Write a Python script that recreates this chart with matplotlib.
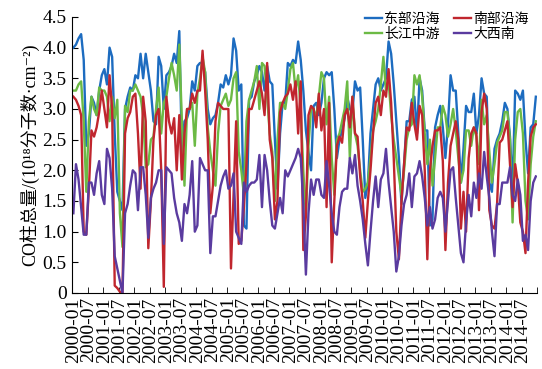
import matplotlib
matplotlib.use('Agg')
import matplotlib.pyplot as plt
import numpy as np

# monthly CO column totals, 2000-01 .. 2014-12
east = [4.0, 4.05, 4.15, 4.22, 3.8, 2.4, 2.6, 3.2, 3.1, 2.9, 3.3, 3.55,
        3.65, 3.4, 4.0, 3.85, 2.6, 1.65, 1.5, 1.35, 3.0, 3.2, 3.35, 3.3,
        3.55, 3.5, 3.9, 3.5, 3.9, 3.6, 3.3, 2.8, 2.75, 3.85, 3.7, 3.0,
        3.55, 3.6, 3.7, 3.9, 3.75, 4.27, 2.3, 2.8, 2.85, 3.0, 3.45, 3.3,
        3.7, 3.75, 3.75, 3.6, 3.0, 2.75, 2.85, 2.9, 3.1, 3.4, 3.35, 3.55,
        3.4, 3.55, 4.15, 3.95, 3.3, 3.4, 1.1, 1.05, 3.15, 3.2, 3.45, 3.55,
        3.7, 3.6, 3.3, 3.7, 3.45, 3.4, 2.5, 1.7, 2.6, 3.1, 3.1, 3.75,
        3.7, 3.8, 3.75, 4.1, 3.8, 3.3, 2.65, 2.3, 2.0, 3.05, 3.1, 2.9,
        3.1, 3.5, 3.6, 3.55, 3.6, 3.0, 2.2, 2.5, 2.65, 2.85, 3.2, 3.0,
        2.95, 3.45, 3.3, 3.35, 2.5, 1.55, 1.8, 2.6, 3.0, 3.4, 3.5, 3.3,
        3.4, 3.5, 4.1, 3.9, 3.4, 2.8, 2.2, 1.45, 2.1, 2.8, 2.8, 3.15,
        3.2, 2.6, 3.5, 3.3, 2.65, 2.65, 1.1, 1.2, 2.7, 2.9, 3.05, 2.7,
        2.2, 2.75, 3.55, 3.3, 3.3, 2.6, 1.8, 2.35, 3.05, 2.95, 2.95, 3.25,
        2.6, 2.9, 3.5, 3.25, 3.2, 1.8, 1.65, 2.35, 2.5, 2.6, 2.8, 3.1,
        3.0, 2.55, 1.7, 3.3, 3.25, 3.15, 3.3, 2.5, 1.95, 2.7, 2.75, 3.2]

south = [3.2, 3.15, 3.05, 2.9, 1.0, 0.95, 1.7, 2.65, 2.55, 2.7, 2.95, 3.3,
         3.0, 2.7, 3.55, 3.0, 0.12, 0.08, 0.02, 0.0, 2.6, 2.85, 2.95, 3.2,
         3.25, 2.6, 1.7, 3.2, 2.8, 0.73, 1.5, 2.5, 2.9, 3.0, 2.0, 0.1,
         3.2, 2.8, 2.6, 2.85, 2.0, 2.9, 1.85, 2.6, 3.0, 3.0, 3.25, 3.1,
         3.3, 3.3, 3.95, 3.3, 2.5, 1.3, 1.75, 2.8, 3.1, 3.05, 3.0, 3.0,
         3.0, 0.4, 1.6, 2.8, 0.8, 0.85, 1.4, 2.1, 3.0, 3.0, 3.15, 3.3,
         3.45, 3.25, 2.9, 3.75, 2.5, 2.2, 1.2, 1.5, 2.95, 3.1, 3.2, 3.25,
         3.4, 3.15, 3.45, 2.6, 3.45, 0.7, 1.25, 2.9, 3.05, 3.0, 2.7, 3.25,
         2.65, 3.0, 1.4, 3.1, 0.5, 1.5, 2.4, 2.55, 2.45, 2.9, 3.0, 2.7,
         3.2, 2.6, 2.55, 1.9, 1.5, 0.9, 1.5, 2.0, 2.6, 3.1, 3.2, 2.9,
         3.3, 3.2, 3.65, 3.1, 2.2, 1.0, 0.55, 1.5, 2.1, 2.7, 2.65, 3.1,
         2.75, 2.5, 3.05, 2.9, 2.0, 0.55, 2.0, 2.4, 2.65, 2.65, 2.7, 2.15,
         0.7, 1.8, 2.4, 2.6, 2.8, 2.5, 1.05, 1.65, 1.0, 2.2, 2.6, 2.7,
         2.6, 1.35, 2.95, 3.25, 3.0, 1.35, 1.1, 1.05, 1.45, 2.45, 2.5, 2.65,
         2.8, 2.1, 1.4, 2.1, 1.8, 1.15, 1.0, 0.65, 1.8, 2.55, 2.7, 2.75]

yangtze = [3.3, 3.3, 3.4, 3.45, 2.8, 1.65, 2.8, 3.2, 3.0, 2.9, 3.35, 3.3,
           3.3, 3.2, 2.8, 3.2, 2.85, 3.15, 1.3, 0.75, 3.05, 2.95, 3.3, 3.3,
           3.4, 3.3, 3.2, 2.9, 2.05, 2.1, 2.5, 2.55, 3.0, 3.35, 2.6, 3.1,
           3.2, 3.5, 3.75, 3.55, 3.3, 4.05, 2.8, 1.75, 3.0, 3.0, 3.1, 2.4,
           3.25, 3.5, 3.85, 3.6, 2.7, 2.3, 2.0, 1.75, 2.6, 3.05, 3.15, 3.25,
           3.05, 3.15, 3.5, 3.6, 2.3, 2.0, 1.6, 2.8, 3.15, 3.3, 3.45, 3.7,
           3.0, 3.75, 3.7, 3.2, 2.6, 2.3, 1.5, 2.5, 3.1, 3.1, 3.0, 3.3,
           3.65, 3.75, 3.3, 3.55, 3.0, 2.0, 1.25, 2.4, 3.0, 3.0, 2.85, 3.2,
           3.6, 3.5, 2.75, 3.2, 2.2, 1.6, 2.5, 2.6, 2.8, 3.0, 3.45, 2.2,
           3.2, 2.6, 2.4, 2.0, 1.65, 1.7, 1.8, 2.2, 2.65, 2.8, 3.0, 3.4,
           3.85, 3.3, 3.45, 2.9, 2.5, 2.2, 1.9, 1.6, 2.0, 2.5, 2.7, 2.75,
           3.55, 3.4, 3.55, 3.2, 2.6, 2.1, 2.5, 1.75, 2.2, 2.7, 2.7, 3.05,
           2.9, 2.55, 2.75, 3.0, 2.65, 2.2, 1.8, 2.0, 2.65, 2.65, 2.4, 2.7,
           2.55, 2.1, 3.15, 2.75, 2.9, 2.3, 1.8, 2.1, 2.45, 2.55, 2.65, 2.95,
           2.95, 2.5, 1.15, 2.5, 2.95, 3.0, 2.6, 1.5, 1.2, 2.1, 2.55, 2.8]

southwest = [1.3, 2.1, 1.85, 1.4, 0.95, 0.95, 1.8, 1.8, 1.6, 1.95, 2.15, 1.6,
             1.45, 2.35, 2.2, 1.7, 0.6, 0.4, 0.2, 0.0, 1.3, 1.45, 1.75, 2.0,
             1.95, 1.35, 2.05, 2.05, 1.6, 0.9, 1.55, 1.7, 1.8, 2.0, 2.0, 0.8,
             2.05, 2.0, 1.95, 1.55, 1.3, 1.15, 0.85, 1.45, 1.3, 1.6, 2.15, 1.0,
             1.1, 2.2, 2.1, 2.0, 2.0, 0.65, 1.25, 1.25, 1.5, 1.75, 1.9, 2.0,
             1.7, 1.75, 1.95, 1.0, 0.9, 0.8, 1.8, 1.65, 1.75, 1.8, 1.8, 1.85,
             2.25, 1.4, 2.25, 2.0, 1.5, 1.1, 1.05, 1.3, 1.55, 1.3, 2.0, 1.9,
             2.0, 2.1, 2.2, 2.35, 2.2, 1.45, 0.3, 1.3, 1.85, 1.6, 1.85, 1.85,
             1.6, 1.55, 2.15, 1.75, 1.3, 1.0, 0.95, 1.4, 1.65, 1.7, 1.7, 2.2,
             1.95, 2.25, 1.75, 1.5, 1.2, 0.8, 0.45, 1.0, 1.5, 1.9, 1.4, 1.85,
             1.95, 2.35, 1.8, 1.4, 1.0, 0.35, 0.6, 1.1, 1.45, 1.6, 1.95, 1.4,
             1.9, 1.95, 2.15, 1.9, 1.55, 1.1, 1.4, 1.05, 1.2, 1.55, 1.65, 1.55,
             1.0, 1.5, 2.0, 2.05, 1.55, 1.1, 0.65, 0.5, 1.15, 1.6, 1.25, 1.8,
             1.55, 1.95, 1.7, 2.3, 1.9, 1.55, 1.0, 0.6, 1.45, 1.45, 1.8, 1.8,
             1.8, 2.05, 1.6, 1.5, 1.85, 1.6, 0.85, 0.95, 0.7, 1.5, 1.8, 1.9]

years = list(range(2000, 2015))
tick_labels = [f'{y}-{m}' for y in years for m in ('01', '07')]

plt.rcParams['font.family'] = ['Liberation Serif', 'Noto Sans CJK SC', 'DejaVu Serif']

fig = plt.figure(figsize=(5.42, 3.69), dpi=100)
ax = fig.add_axes([0.133, 0.206, 0.858, 0.748])

x = np.arange(len(east))
ax.plot(x, east, color='#1d6cc0', lw=1.7, label='东部沿海')
ax.plot(x, yangtze, color='#6cba45', lw=1.7, label='长江中游')
ax.plot(x, south, color='#c0262e', lw=1.7, label='南部沿海')
ax.plot(x, southwest, color='#5a3b9f', lw=1.7, label='大西南')

ax.set_xlim(-0.5, len(east) - 0.5)
ax.set_ylim(0, 4.5)
ax.spines['top'].set_visible(False)
ax.spines['right'].set_visible(False)

yt = np.arange(0, 4.51, 0.5)
ax.set_yticks(yt)
ax.set_yticklabels(['0'] + [f'{v:.1f}' for v in yt[1:]], fontsize=14)
ax.tick_params(axis='y', direction='in', length=4, pad=4)

ax.set_xticks(np.arange(0, len(east), 6))
ax.set_xticklabels(tick_labels, rotation=90, fontsize=14)
ax.tick_params(axis='x', which='major', length=0, pad=3)
ax.set_xticks(np.arange(5.5, len(east), 6), minor=True)
ax.tick_params(axis='x', which='minor', direction='in', length=4)

ax.set_ylabel('CO柱总量/(10¹⁸分子数·cm⁻²)', fontsize=13, labelpad=2)

ax.legend(loc='upper right', bbox_to_anchor=(1.0, 1.05), ncol=2, frameon=False,
          prop={'family': ['Noto Sans CJK SC'], 'size': 10},
          handlelength=1.2, handletextpad=0.2, columnspacing=1.0, labelspacing=0.1,
          borderaxespad=0.2)

fig.savefig('out.png', dpi=100)
